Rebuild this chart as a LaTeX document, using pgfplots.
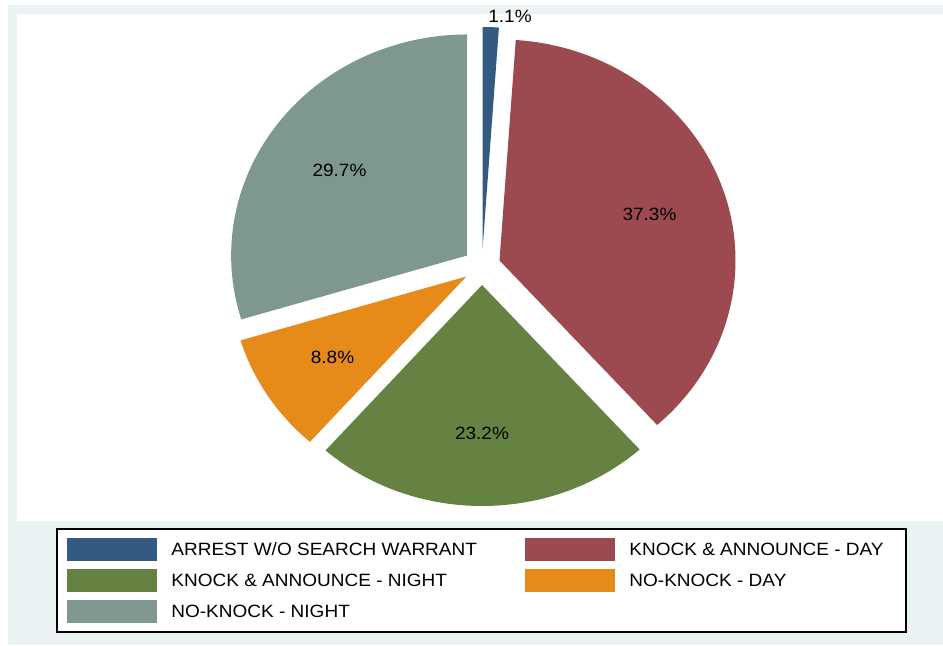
\documentclass[border=0pt]{standalone}
\usepackage{pgfplots}
\pgfplotsset{compat=1.18}
\usepackage{pgfplotstable}
\usepackage{graphicx}
\usepackage{fontspec}
\setmainfont{Liberation Sans}
\definecolor{bgc}{RGB}{234,242,243}
\definecolor{c1}{RGB}{51,90,128}
\definecolor{c2}{RGB}{156,74,80}
\definecolor{c3}{RGB}{102,130,67}
\definecolor{c4}{RGB}{230,138,26}
\definecolor{c5}{RGB}{126,152,142}
\newcommand\T[1]{\scalebox{1.068}[1]{#1}}
% share of each category (percent)
\pgfplotstableread{
pct
1.1
37.3
23.2
8.8
29.7
}\piedata
\newcommand\drawslice[3]{%
 \pgfmathsetmacro\mA{#1}\pgfmathsetmacro\mB{#2}%
 \pgfmathsetmacro\mM{(\mA+\mB)/2}%
 \pgfmathsetmacro\tx{482+18.5*cos(\mM)}%
 \pgfmathsetmacro\ty{378.5+18.5*sin(\mM)}%
 \pgfmathsetmacro\px{\tx+236*cos(\mA)}%
 \pgfmathsetmacro\py{\ty+221*sin(\mA)}%
 \edef\tmp{\noexpand\fill[#3] (axis cs:\tx,\ty) -- (axis cs:\px,\py) arc[start angle=\mA, end angle=\mB, x radius=118pt, y radius=110.5pt] -- cycle;}%
 \tmp}
\pgfplotstablegetelem{0}{pct}\of\piedata\let\pA\pgfplotsretval
\pgfplotstablegetelem{1}{pct}\of\piedata\let\pB\pgfplotsretval
\pgfplotstablegetelem{2}{pct}\of\piedata\let\pC\pgfplotsretval
\pgfplotstablegetelem{3}{pct}\of\piedata\let\pD\pgfplotsretval
\pgfplotstablegetelem{4}{pct}\of\piedata\let\pE\pgfplotsretval
\pgfmathsetmacro\tot{\pA+\pB+\pC+\pD+\pE}
\pgfmathsetmacro\aA{90}
\pgfmathsetmacro\aB{\aA-360*\pA/\tot}
\pgfmathsetmacro\aC{\aB-360*\pB/\tot}
\pgfmathsetmacro\aD{\aC-360*\pC/\tot}
\pgfmathsetmacro\aE{\aD-360*\pD/\tot}
\pgfmathsetmacro\aF{\aE-360*\pE/\tot}
\begin{document}
\begin{tikzpicture}
\begin{axis}[x=0.5pt,y=0.5pt,xmin=0,xmax=943,ymin=0,ymax=645,hide axis,xtick=\empty,ytick=\empty,clip=false,scale only axis]
\fill[white] (axis cs:0,0) rectangle (axis cs:943,645);
\fill[bgc] (axis cs:8,0) rectangle (axis cs:943,640);
\fill[white] (axis cs:17,124) rectangle (axis cs:943,631);
\drawslice{\aA}{\aB}{c1}
\drawslice{\aB}{\aC}{c2}
\drawslice{\aC}{\aD}{c3}
\drawslice{\aD}{\aE}{c4}
\drawslice{\aE}{\aF}{c5}
\begin{scope}[font=\fontsize{8.9}{10}\selectfont]
\node at (axis cs:510,629) {\T{1.1\%}};
\node at (axis cs:649.5,431) {\T{37.3\%}};
\node at (axis cs:339.5,475) {\T{29.7\%}};
\node at (axis cs:332.5,288) {\T{8.8\%}};
\node at (axis cs:482,211.5) {\T{23.2\%}};
% legend
\draw[black, line width=0.6pt, fill=white] (axis cs:57,13) rectangle (axis cs:906,116);
\fill[c1] (axis cs:67,84) rectangle (axis cs:157,107);
\fill[c2] (axis cs:525,84) rectangle (axis cs:615,107);
\fill[c3] (axis cs:67,53.5) rectangle (axis cs:157,76.5);
\fill[c4] (axis cs:525,53.5) rectangle (axis cs:615,76.5);
\fill[c5] (axis cs:67,22.5) rectangle (axis cs:157,45.5);
\node[anchor=west, inner sep=0pt] at (axis cs:171,95.5) {\T{ARREST W/O SEARCH WARRANT}};
\node[anchor=west, inner sep=0pt] at (axis cs:629,95.5) {\T{KNOCK \& ANNOUNCE - DAY}};
\node[anchor=west, inner sep=0pt] at (axis cs:171,65) {\T{KNOCK \& ANNOUNCE - NIGHT}};
\node[anchor=west, inner sep=0pt] at (axis cs:629,65) {\T{NO-KNOCK - DAY}};
\node[anchor=west, inner sep=0pt] at (axis cs:171,34) {\T{NO-KNOCK - NIGHT}};
\end{scope}
\end{axis}
\pgfresetboundingbox
\path[use as bounding box] (current axis.south west) rectangle (current axis.north east);
\end{tikzpicture}
\end{document}
